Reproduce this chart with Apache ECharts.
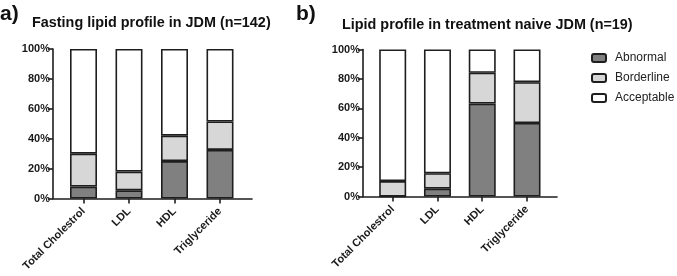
<!DOCTYPE html>
<html lang="en">
<head>
    <meta charset="UTF-8">
    <title>Lipid profile in JDM</title>
    <script src="https://cdn.jsdelivr.net/npm/echarts@6.0.0/dist/echarts.min.js"></script>
    <style>
        * { margin: 0; padding: 0; }
        #chart { width: 677px; height: 276px; background: #fff; }
    </style>
</head>
<body>
    <div id="chart"></div>
    <script>
        const categories = ['Total Cholestrol', 'LDL', 'HDL', 'Triglyceride'];
        const statusNames = ['Abnormal', 'Borderline', 'Acceptable'];
        const yTicks = [0, 20, 40, 60, 80, 100];

        // panel a: fasting lipid profile (n=142), percent
        const fastAbnormal = [8, 5.5, 25, 32.5];
        const fastBorderline = [22, 12.5, 17, 19];
        const fastAcceptable = [70, 82, 58, 48.5];

        // panel b: treatment naive (n=19), percent
        const naiveAbnormal = [0, 5.3, 63.2, 50];
        const naiveBorderline = [10.5, 10.5, 21, 27.8];
        const naiveAcceptable = [89.5, 84.2, 15.8, 22.2];

        const colors = ['#808080', '#d7d7d7', '#ffffff'];
        const edge = '#1e1e1e';
        const font = 'Liberation Sans, Arial, sans-serif';
        const labelStyle = { color: '#1a1a1a', fontWeight: 'bold', fontSize: 11, fontFamily: font };

        const chart = echarts.init(document.getElementById('chart'), null, { renderer: 'canvas' });

        // grids 0/1: outer frame (axis lines + y labels), grids 2/3: bars on category axes
        function frameX(idx) {
            return {
                type: 'value', gridIndex: idx, min: 0, max: 1,
                splitLine: { show: false }, axisTick: { show: false }, axisLabel: { show: false },
                axisLine: { show: true, onZero: false, lineStyle: { color: edge, width: 1.6 } }
            };
        }

        function frameY(idx) {
            return {
                type: 'value', gridIndex: idx, min: yTicks[0], max: yTicks[yTicks.length - 1], interval: 20,
                splitLine: { show: false },
                axisLine: { show: true, onZero: false, lineStyle: { color: edge, width: 1.6 } },
                axisTick: { show: true, length: 5, lineStyle: { color: edge, width: 1.6 } },
                axisLabel: Object.assign({ formatter: '{value}%', margin: 3 }, labelStyle)
            };
        }

        function barX(idx) {
            return {
                type: 'category', gridIndex: idx, data: categories,
                axisLine: { show: false },
                axisTick: { show: true, length: 5, alignWithLabel: true, lineStyle: { color: edge, width: 1.6 } },
                axisLabel: Object.assign({ rotate: 45, margin: 11, interval: 0 }, labelStyle)
            };
        }

        function barY(idx) {
            return {
                type: 'value', gridIndex: idx, min: 0, max: 100, show: false, splitLine: { show: false }
            };
        }

        function barSeries(name, values, axisIdx, color) {
            return {
                name: name, type: 'bar', stack: 'panel' + axisIdx,
                xAxisIndex: axisIdx, yAxisIndex: axisIdx,
                barWidth: 27,
                itemStyle: { color: color, borderColor: edge, borderWidth: 1.6 },
                emphasis: { disabled: true },
                data: values
            };
        }

        const titleStyle = { fontSize: 14.4, fontWeight: 'bold', color: '#111', fontFamily: font };
        const panelStyle = { fontSize: 21, fontWeight: 'bold', color: '#111', fontFamily: font };

        const option = {
            animation: false,
            title: [
                { text: 'a)', left: 0, top: 4, padding: 0, textStyle: panelStyle },
                { text: 'b)', left: 296, top: 4, padding: 0, textStyle: panelStyle },
                { text: 'Fasting lipid profile in JDM (n=142)', left: 32, top: 16, padding: 0, textStyle: titleStyle },
                { text: 'Lipid profile in treatment naive JDM (n=19)', left: 342, top: 18, padding: 0, textStyle: titleStyle }
            ],
            legend: {
                data: statusNames, orient: 'vertical', left: 591, top: 52, padding: 0,
                itemWidth: 14, itemHeight: 8, itemGap: 8,
                textStyle: { fontSize: 12, color: '#222', fontFamily: font, padding: [0, 0, 0, 4] }
            },
            grid: [
                { left: 53, right: 425, top: 49, bottom: 77.5 },
                { left: 363, right: 120, top: 49.5, bottom: 79.5 },
                { left: 60.75, right: 434.25, top: 49, bottom: 77.5 },
                { left: 370.3, right: 127.6, top: 49.5, bottom: 79.5 }
            ],
            xAxis: [frameX(0), frameX(1), barX(2), barX(3)],
            yAxis: [frameY(0), frameY(1), barY(2), barY(3)],
            series: [
                barSeries(statusNames[0], fastAbnormal, 2, colors[0]),
                barSeries(statusNames[1], fastBorderline, 2, colors[1]),
                barSeries(statusNames[2], fastAcceptable, 2, colors[2]),
                barSeries(statusNames[0], naiveAbnormal, 3, colors[0]),
                barSeries(statusNames[1], naiveBorderline, 3, colors[1]),
                barSeries(statusNames[2], naiveAcceptable, 3, colors[2])
            ]
        };

        chart.setOption(option);
        window.addEventListener('resize', chart.resize);
    </script>
</body>
</html>
